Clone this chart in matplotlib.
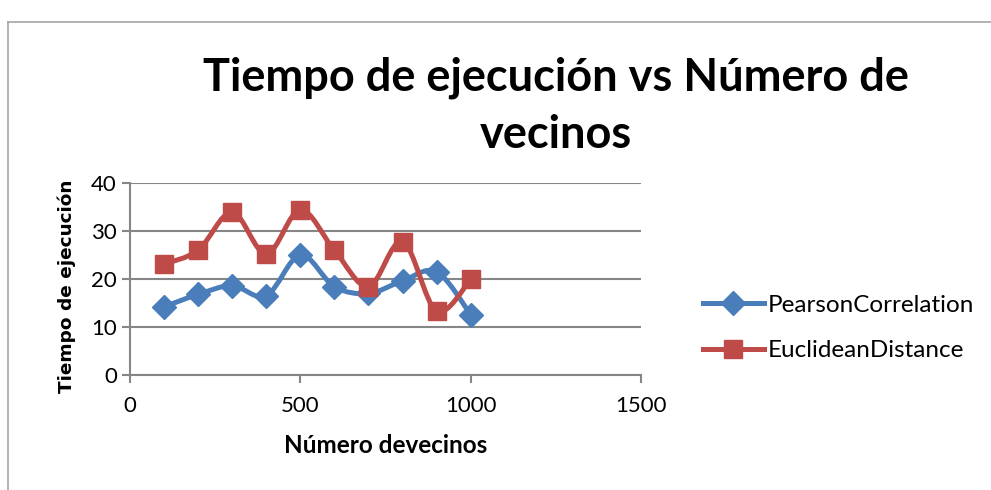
import numpy as np
import matplotlib.pyplot as plt
from matplotlib.path import Path
from matplotlib.patches import PathPatch
from matplotlib.lines import Line2D

vecinos = [100, 200, 300, 400, 500, 600, 700, 800, 900, 1000]
pearson = [14.2, 16.8, 18.6, 16.5, 25.0, 18.4, 17.0, 19.6, 21.5, 12.6]
euclidean = [23.1, 26.0, 33.9, 25.2, 34.4, 26.0, 18.4, 27.8, 13.3, 19.9]

x_ticks = [0, 500, 1000, 1500]
y_ticks = [0, 10, 20, 30, 40]

BLUE = '#4A7EBB'
RED = '#BE4B48'
GRID = '#868686'
FONT = 'Lato'


def smooth_path(xs, ys):
    # cubic bezier through every point, Catmull-Rom style control points
    pts = np.column_stack([xs, ys]).astype(float)
    n = len(pts)
    verts = [pts[0]]
    codes = [Path.MOVETO]
    for i in range(n - 1):
        p0 = pts[i - 1] if i > 0 else pts[i]
        p1 = pts[i]
        p2 = pts[i + 1]
        p3 = pts[i + 2] if i + 2 < n else pts[i + 1]
        verts += [p1 + (p2 - p0) / 6, p2 - (p3 - p1) / 6, p2]
        codes += [Path.CURVE4] * 3
    return Path(verts, codes)


fig = plt.figure(figsize=(9.91, 4.9), dpi=100)
ax = fig.add_axes([130 / 991, 1 - 375 / 490, 511 / 991, 192 / 490])

# outer chart border
fig.add_artist(Line2D([8 / 991, 8 / 991], [0, 1 - 22 / 490], color='#A6A6A6', lw=1.2))
fig.add_artist(Line2D([8 / 991, 1], [1 - 22 / 490, 1 - 22 / 490], color='#A6A6A6', lw=1.2))

series = [(pearson, BLUE, 'D', 12, 'PearsonCorrelation'),
          (euclidean, RED, 's', 13, 'EuclideanDistance')]
handles = []
for vals, col, mk, ms, name in series:
    ax.add_patch(PathPatch(smooth_path(vecinos, vals), fill=False, edgecolor=col,
                           lw=3.6, joinstyle='round', capstyle='round', zorder=3))
    ax.plot(vecinos, vals, linestyle='none', marker=mk, markersize=ms,
            color=col, zorder=4)
    handles.append(Line2D([], [], color=col, lw=3.6, marker=mk, markersize=ms, label=name))

ax.set_xlim(0, 1500)
ax.set_ylim(0, 40)
ax.set_xticks(x_ticks)
ax.set_yticks(y_ticks)
ax.grid(axis='y', color=GRID, lw=1.5)
ax.set_axisbelow(True)
for s in ['top', 'right']:
    ax.spines[s].set_visible(False)
for s in ['left', 'bottom']:
    ax.spines[s].set_color(GRID)
    ax.spines[s].set_linewidth(1.5)
ax.tick_params(axis='both', colors=GRID, width=1.5, length=6, labelsize=16)
ax.tick_params(axis='x', pad=9)
for lab in ax.get_xticklabels() + ax.get_yticklabels():
    lab.set_color('black')
    lab.set_fontfamily(FONT)

ax.set_xlabel('Número devecinos', fontfamily=FONT, fontweight='bold', fontsize=17.5, labelpad=13)
ax.set_ylabel('Tiempo de ejecución', fontfamily='DejaVu Sans', fontweight='bold',
              fontsize=13.3)
ax.yaxis.set_label_coords(-0.106, 0.46)

fig.text(556 / 991, 1 - 106 / 490, 'Tiempo de ejecución vs Número de\nvecinos',
         ha='center', va='center', fontfamily=FONT, fontweight='bold',
         fontsize=32.5, linespacing=1.45)

fig.legend(handles=handles, loc='center left', bbox_to_anchor=(703 / 991, 1 - 328 / 490),
           frameon=False, handlelength=2.5, handletextpad=0.15, labelspacing=1.0,
           borderpad=0, borderaxespad=0, prop={'family': FONT, 'size': 17.5})

fig.savefig('out.png', dpi=100)
